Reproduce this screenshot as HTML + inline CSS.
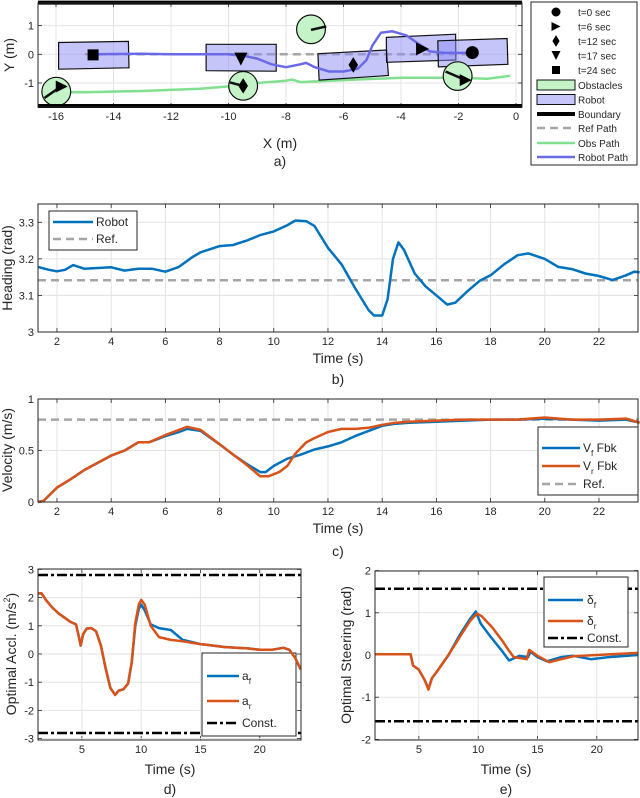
<!DOCTYPE html>
<html><head><meta charset="utf-8"><style>
body{margin:0;background:#fff}
svg{display:block;font-family:"Liberation Sans",sans-serif}
</style></head><body>
<svg id="fig" width="640" height="798" viewBox="0 0 640 798"></svg>
<script>
// ---------- data ----------
const robotPathX=[-14.7,-13,-12,-11,-10,-9.5,-9,-8.5,-8,-7.5,-7.3,-7,-6.5,-6,-5.5,-5.2,-5,-4.7,-4.3,-3.8,-3.3,-3,-2.5,-1.5];
const robotPathY=[0,0.02,0,0,0,-0.05,-0.15,-0.35,-0.45,-0.35,-0.3,-0.45,-0.6,-0.6,-0.5,-0.2,0.3,0.75,0.8,0.65,0.3,0.1,0.05,0.05];
const obsPathX=[-16,-15,-13,-11,-10,-9,-8,-7.8,-7.5,-6,-4,-2,-1,-0.2];
const obsPathY=[-1.32,-1.32,-1.28,-1.2,-1.12,-1.0,-0.92,-0.88,-0.97,-0.9,-0.82,-0.82,-0.85,-0.75];
const robotRects=[
 [[-15.91,0.41],[-13.48,0.45],[-13.46,-0.47],[-15.91,-0.52]],
 [[-10.78,0.35],[-8.34,0.35],[-8.34,-0.59],[-10.78,-0.57]],
 [[-6.89,0.02],[-4.50,0.15],[-4.44,-0.74],[-6.85,-0.90]],
 [[-4.51,0.59],[-2.10,0.70],[-2.09,-0.20],[-4.50,-0.28]],
 [[-2.72,0.47],[-0.31,0.55],[-0.28,-0.35],[-2.70,-0.44]]];
const obsCX=[-15.99,-9.49,-7.13,-2.03];
const obsCY=[-1.30,-1.10,0.87,-0.76];
const obsHeadX=[-15.8,-9.95,-6.6,-1.8];
const obsHeadY=[-1.1,-0.98,0.97,-0.88];
const obsTailX=[-16.4,-9.49,-7.13,-2.45];
const obsTailY=[-1.52,-1.10,0.85,-0.6];
const tickA_X=[-16,-14,-12,-10,-8,-6,-4,-2,0];
const tickA_Y=[-1,0,1];

const headT=[1.3,1.7,2,2.3,2.6,3,3.5,4,4.5,5,5.5,6,6.5,7,7.3,8,8.5,9,9.5,10,10.5,10.8,11.2,11.5,12,12.5,13,13.5,13.7,14,14.2,14.4,14.6,14.8,15.2,15.6,16,16.4,16.7,17.2,17.6,18,18.5,19,19.4,20,20.5,21,21.5,22,22.5,23,23.3,23.5];
const headV=[3.178,3.17,3.166,3.17,3.183,3.173,3.175,3.177,3.168,3.173,3.173,3.165,3.178,3.205,3.218,3.235,3.238,3.25,3.265,3.275,3.292,3.305,3.303,3.29,3.23,3.185,3.12,3.06,3.045,3.045,3.09,3.2,3.245,3.225,3.16,3.125,3.1,3.075,3.08,3.115,3.14,3.155,3.185,3.21,3.215,3.2,3.178,3.172,3.16,3.153,3.142,3.155,3.165,3.163];
const headRef=3.1416;

const velT=[1.3,1.5,2,2.5,3,3.5,4,4.5,5,5.4,6,6.5,6.8,7.3,8,8.5,9,9.5,9.7,10,10.5,11,11.5,12,12.5,13,13.5,14,14.5,15,16,17,18,19,20,21,22,23,23.5];
const velF=[0,0.01,0.14,0.22,0.31,0.38,0.45,0.5,0.58,0.58,0.64,0.68,0.71,0.69,0.56,0.46,0.37,0.29,0.29,0.35,0.42,0.46,0.51,0.54,0.58,0.64,0.69,0.74,0.76,0.77,0.78,0.79,0.8,0.8,0.81,0.8,0.79,0.8,0.77];
const velRT=[1.3,1.5,2,2.5,3,3.5,4,4.5,5,5.4,6,6.5,6.8,7.3,8,9,9.5,9.8,10.2,10.5,10.8,11.2,11.5,12,12.5,13,13.5,14,14.5,15,16,17,18,19,20,21,22,23,23.5];
const velR=[0,0.01,0.14,0.22,0.31,0.38,0.45,0.5,0.58,0.58,0.65,0.7,0.73,0.7,0.56,0.36,0.25,0.25,0.29,0.35,0.47,0.58,0.62,0.68,0.71,0.71,0.72,0.75,0.77,0.78,0.79,0.8,0.8,0.8,0.82,0.8,0.8,0.81,0.77];
const velRef=0.8;

const accT=[1.3,1.6,2,2.5,3,3.5,4,4.5,4.7,4.9,5.1,5.4,5.8,6.2,6.6,7,7.4,7.8,8.1,8.5,8.9,9.2,9.5,9.8,10,10.3,10.8,11.5,12.5,13.5,15,16,17,18,19,20,21,22,22.5,23,23.45];
const accF=[2.15,2.15,1.9,1.65,1.45,1.3,1.15,1.05,0.7,0.3,0.7,0.9,0.92,0.8,0.3,-0.5,-1.2,-1.45,-1.3,-1.25,-1.05,-0.3,1.0,1.6,1.75,1.55,1.05,0.92,0.85,0.5,0.35,0.3,0.25,0.22,0.2,0.15,0.15,0.22,0.15,-0.15,-0.55];
const accR=[2.15,2.15,1.9,1.65,1.45,1.3,1.15,1.05,0.7,0.3,0.7,0.9,0.92,0.8,0.3,-0.5,-1.2,-1.45,-1.3,-1.25,-1.05,-0.3,1.1,1.75,1.92,1.75,1.0,0.6,0.5,0.45,0.35,0.3,0.25,0.22,0.2,0.15,0.15,0.22,0.15,-0.15,-0.55];
const accConst=2.8;

const steerFT=[1.3,4.3,4.5,5,5.5,5.8,6.1,6.5,7.5,8.5,9.3,9.8,10.2,11,12,12.6,13.5,14.2,14.4,15,15.8,17,18,19.5,21,23.5];
const steerF=[0.02,0.02,-0.25,-0.35,-0.6,-0.8,-0.55,-0.4,0.0,0.5,0.85,1.03,0.75,0.45,0.1,-0.13,-0.02,-0.05,0.08,-0.05,-0.15,-0.05,-0.02,-0.1,-0.05,0.0];
const steerRT=[1.3,4.3,4.5,5,5.5,5.8,6.1,6.5,7.5,8.5,9.3,9.9,10.3,11.2,12,12.6,13,14.1,14.3,15,16,17,18,20,23.5];
const steerR=[0.02,0.02,-0.25,-0.35,-0.6,-0.82,-0.55,-0.4,0.0,0.45,0.8,0.98,0.92,0.65,0.35,0.1,-0.05,-0.1,0.12,-0.02,-0.17,-0.1,-0.03,0.0,0.05];
const steerConst=1.5708;

const tickT=[2,4,6,8,10,12,14,16,18,20,22];
const tickT5=[5,10,15,20];
const tickHead=[3,3.1,3.2,3.3];
const tickHeadLbl=["3","3.1","3.2","3.3"];
const tickVel=[0,0.5,1];
const tickAcc=[-3,-2,-1,0,1,2,3];
const tickSteer=[-2,-1,0,1,2];

// ---------- helpers ----------
const NS="http://www.w3.org/2000/svg";
const svg=document.getElementById('fig');
function mk(tag,attrs,parent){const e=document.createElementNS(NS,tag);for(const k in attrs)e.setAttribute(k,attrs[k]);(parent||svg).appendChild(e);return e;}
function txt(s,x,y,size,anchor,parent,rot){const t=mk('text',{x:x,y:y,'font-size':size,'text-anchor':anchor||'middle',fill:'#262626'},parent);if(rot)t.setAttribute('transform','rotate(-90 '+x+' '+y+')');t.textContent=s;return t;}
function pathD(xs,ys,sx,sy){return xs.map((v,i)=>(i?'L':'M')+sx(v).toFixed(1)+' '+sy(ys[i]).toFixed(1)).join('');}

function axes(name,x0,y0,x1,y1,xt,xl,sx,yt,yl,sy,grid){
  const g=mk('g',{});
  
  
  mk('rect',{x:x0,y:y0,width:x1-x0,height:y1-y0,fill:'#fff'},g);
  xt.forEach((v,i)=>{const x=sx(v);
    if(grid)mk('line',{x1:x,x2:x,y1:y0,y2:y1,stroke:'#e3e3e3','stroke-width':1},g);
    mk('line',{x1:x,x2:x,y1:y1,y2:y1-4,stroke:'#262626','stroke-width':0.8},g);
    mk('line',{x1:x,x2:x,y1:y0,y2:y0+4,stroke:'#262626','stroke-width':0.8},g);
    const t=txt(xl[i],x,y1+13,11,'middle',g);
    
    });
  yt.forEach((v,i)=>{const y=sy(v);
    if(grid)mk('line',{x1:x0,x2:x1,y1:y,y2:y,stroke:'#e3e3e3','stroke-width':1},g);
    mk('line',{x1:x0,x2:x0+4,y1:y,y2:y,stroke:'#262626','stroke-width':0.8},g);
    mk('line',{x1:x1,x2:x1-4,y1:y,y2:y,stroke:'#262626','stroke-width':0.8},g);
    const t=txt(yl[i],x0-4,y+4,11,'end',g);
    
    });
  return g;
}
function frame(x0,y0,x1,y1){const r=mk('rect',{x:x0,y:y0,width:x1-x0,height:y1-y0,fill:'none',stroke:'#262626','stroke-width':1});
  
  }
function line(xs,ys,sx,sy,color,w,dash,name){const p=mk('path',{d:pathD(xs,ys,sx,sy),fill:'none',stroke:color,'stroke-width':w,'stroke-linejoin':'round'});if(dash)p.setAttribute('stroke-dasharray',dash);
  
  return p;}
function legBox(x0,y0,x1,y1,name){const r=mk('rect',{x:x0,y:y0,width:x1-x0,height:y1-y0,fill:'#fff',stroke:'#262626','stroke-width':1});
  
  }
function legLine(x0,x1,y,color,w,dash){const l=mk('line',{x1:x0,x2:x1,y1:y,y2:y,stroke:color,'stroke-width':w});if(dash)l.setAttribute('stroke-dasharray',dash);
  
  }
function legText(x,y,main,sub,size){const t=mk('text',{x:x,y:y,'font-size':size||12,fill:'#262626'});
  
  
  const a=mk('tspan',{},t);a.textContent=main;
  if(sub){const b=mk('tspan',{'font-size':(size||12)*0.7,dy:4},t);b.textContent=sub[0];
    if(sub[1]){const c=mk('tspan',{dy:-4},t);c.textContent=sub[1];}}
  return t;}
const BLUE='#0072BD',ORANGE='#D95319',GREY='#a6a6a6';

// ---------- panel a ----------
const axX=v=>516+v*28.75, axY=v=>54.3-v*28.7;
axes('panel-a-axes',38,3,522,107,tickA_X,tickA_X.map(String),axX,tickA_Y,tickA_Y.map(String),axY,true);
line([-15,-1.5],[0,0],axX,axY,GREY,2.5,'8,5','ref-path');
line(obsPathX,obsPathY,axX,axY,'#80e090',2.5,null,'obs-path');
robotRects.forEach(r=>{const p=mk('polygon',{points:r.map(c=>axX(c[0]).toFixed(1)+','+axY(c[1]).toFixed(1)).join(' '),fill:'rgba(140,140,245,0.5)',stroke:'#111','stroke-width':1.2});
  
  });
line(robotPathX,robotPathY,axX,axY,'#6a6ae8',2.5,null,'robot-path');
obsCX.forEach((cx,i)=>{const e=mk('ellipse',{cx:axX(cx),cy:axY(obsCY[i]),rx:14.4,ry:14.3,fill:'#c4f3c8',stroke:'#111','stroke-width':1.2});
  
  
  const l=mk('line',{x1:axX(obsTailX[i]),y1:axY(obsTailY[i]),x2:axX(obsHeadX[i]),y2:axY(obsHeadY[i]),stroke:'#111','stroke-width':2.5});
  
  });
function marker(kind,x,y,s){let e;
  if(kind==='circle')e=mk('circle',{cx:x,cy:y,r:s});
  else if(kind==='square')e=mk('rect',{x:x-s,y:y-s,width:2*s,height:2*s});
  else if(kind==='right')e=mk('polygon',{points:`${x-s},${y-s} ${x+s},${y} ${x-s},${y+s}`});
  else if(kind==='down')e=mk('polygon',{points:`${x-s},${y-s} ${x+s},${y-s} ${x},${y+s}`});
  else e=mk('polygon',{points:`${x},${y-s*1.3} ${x+s*0.8},${y} ${x},${y+s*1.3} ${x-s*0.8},${y}`});
  e.setAttribute('fill','#000');
  
  }
marker('square',axX(-14.71),axY(-0.02),5.5);
marker('down',axX(-9.57),axY(-0.17),6.5);
marker('diamond',axX(-5.66),axY(-0.37),6);
marker('diamond',axX(-9.49),axY(-1.10),6);
marker('right',axX(-3.25),axY(0.19),6.5);
marker('circle',axX(-1.52),axY(0.06),6.5);
marker('right',axX(-1.75),axY(-0.9),6);
marker('right',axX(-15.8),axY(-1.12),6);
[1.8,-1.8].forEach(v=>{const b=mk('line',{x1:38,x2:522,y1:axY(v),y2:axY(v),stroke:'#000','stroke-width':4});
  
  });
frame(38,3,522,107);
let t;
t=txt('Y (m)',14,55,14,'middle',null,true);
t=txt('X (m)',280,148,14);
t=txt('a)',280,166,14);
legBox(531,2,637,165,'legend-a');
const mk_t=['circle','right','diamond','down','square'],lbl_t=['t=0 sec','t=6 sec','t=12 sec','t=17 sec','t=24 sec'];
mk_t.forEach((k,i)=>{const y=12+i*14.5;marker(k,556,y,k==='square'?4:4.5);legText(578,y+4,lbl_t[i],null,10);});
[['Obstacles','#c4f3c8'],['Robot','rgba(140,140,245,0.5)']].forEach((e,i)=>{const y=85+i*14.5;const r=mk('rect',{x:537,y:y-5,width:38,height:10,fill:e[1],stroke:'#111','stroke-width':1});
  
  legText(578,y+4,e[0],null,10);});
legLine(537,575,114,'#000',4);legText(578,118,'Boundary',null,10);
legLine(537,575,128,GREY,2.5,'8,5');legText(578,132,'Ref Path',null,10);
legLine(537,575,143,'#80e090',2.5);legText(578,147,'Obs Path',null,10);
legLine(537,575,157,'#6a6ae8',2.5);legText(578,161,'Robot Path',null,10);

// ---------- panel b ----------
const bX=v=>38+(v-1.3)*27.1, bY=v=>332-(v-3)*365.7;
axes('panel-b-axes',38,204,638,332,tickT,tickT.map(String),bX,tickHead,tickHeadLbl,bY,true);
line([1.3,23.44],[headRef,headRef],bX,bY,GREY,2.5,'8,5','heading-ref');
line(headT,headV,bX,bY,BLUE,2.5,null,'heading-robot');
frame(38,204,638,332);
t=txt('Heading (rad)',12,268,14,'middle',null,true);
t=txt('Time (s)',338,363,14);
t=txt('b)',338,384,14);
legBox(49,211,137,250,'legend-b');
legLine(53,93,222,BLUE,2.5);legText(96,226,'Robot');
legLine(53,93,239,GREY,2.5,'8,5');legText(96,243,'Ref.');

// ---------- panel c ----------
const cY=v=>502-v*103;
axes('panel-c-axes',38,399,638,502,tickT,tickT.map(String),bX,tickVel,tickVel.map(String),cY,true);
line([1.3,23.44],[velRef,velRef],bX,cY,GREY,2.5,'8,5','velocity-ref');
line(velT,velF,bX,cY,BLUE,2.5,null,'velocity-front');
line(velRT,velR,bX,cY,ORANGE,2.5,null,'velocity-rear');
frame(38,399,638,502);
t=txt('Velocity (m/s)',12,450,14,'middle',null,true);
t=txt('Time (s)',338,533,14);
t=txt('c)',338,556,14);
legBox(538,427,638,495,'legend-c');
legLine(542,580,448,BLUE,2.5);legText(583,452,'V',['f',' Fbk']);
legLine(542,580,466,ORANGE,2.5);legText(583,470,'V',['r',' Fbk']);
legLine(542,580,484,GREY,2.5,'8,5');legText(583,488,'Ref.');

// ---------- panel d ----------
const dX=v=>38+(v-1.3)*11.86, dY=v=>654-v*28.2;
axes('panel-d-axes',38,569,301,740,tickT5,tickT5.map(String),dX,tickAcc,tickAcc.map(String),dY,true);
line([1.3,23.47],[accConst,accConst],dX,dY,'#000',2.5,'10,3,3,3','accel-constraint-upper');
line([1.3,23.47],[-accConst,-accConst],dX,dY,'#000',2.5,'10,3,3,3','accel-constraint-lower');
legBox(202,653,296,736,'legend-d');
legLine(207,239,676,BLUE,2.5);legText(242,680,'a',['f']);
legLine(207,239,701,ORANGE,2.5);legText(242,705,'a',['r']);
legLine(207,239,723,'#000',2.5,'10,3,3,3');legText(242,727,'Const.');
line(accT,accF,dX,dY,BLUE,2.5,null,'accel-front');
line(accT,accR,dX,dY,ORANGE,2.5,null,'accel-rear');
frame(38,569,301,740);
t=mk('text',{x:16,y:654,'font-size':14,'text-anchor':'middle',fill:'#262626',transform:'rotate(-90 16 654)'});


t.innerHTML='Optimal Accl. (m/s<tspan font-size="9" dy="-6">2</tspan><tspan dy="6">)</tspan>';
t=txt('Time (s)',170,774,14);
t=txt('d)',170,794,14);

// ---------- panel e ----------
const eX=v=>375+(v-1.3)*11.86, eY=v=>655-v*42.2;
axes('panel-e-axes',375,571,638,740,tickT5,tickT5.map(String),eX,tickSteer,tickSteer.map(String),eY,true);
line([1.3,23.47],[steerConst,steerConst],eX,eY,'#000',2.5,'10,3,3,3','steer-constraint-upper');
line([1.3,23.47],[-steerConst,-steerConst],eX,eY,'#000',2.5,'10,3,3,3','steer-constraint-lower');
line(steerFT,steerF,eX,eY,BLUE,2.5,null,'steer-front');
line(steerRT,steerR,eX,eY,ORANGE,2.5,null,'steer-rear');
frame(375,571,638,740);
t=txt('Optimal Steering (rad)',351,655,14,'middle',null,true);
t=txt('Time (s)',506,774,14);
t=txt('e)',506,794,14);
legBox(544,577,628,647,'legend-e');
legLine(548,583,600,BLUE,2.5);legText(587,604,'δ',['f']);
legLine(548,583,621,ORANGE,2.5);legText(587,625,'δ',['r']);
legLine(548,583,638,'#000',2.5,'10,3,3,3');legText(587,642,'Const.');
</script>
</body></html>
